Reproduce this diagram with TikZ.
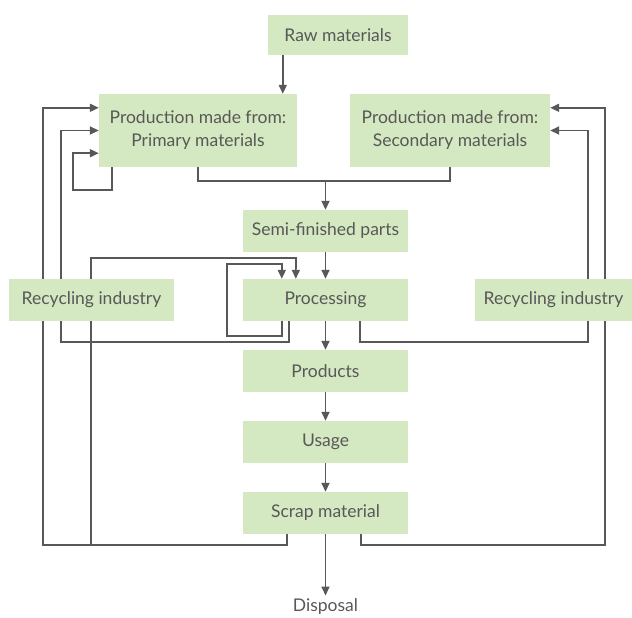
\documentclass[tikz,border=0pt]{standalone}
\usepackage{fontspec}
\setmainfont{Lato}
\usetikzlibrary{arrows.meta}
\definecolor{boxgreen}{RGB}{212,232,193}
\definecolor{linegray}{RGB}{88,88,88}
\tikzset{
  stage/.style={fill=boxgreen, text=linegray, minimum width=165pt, minimum height=42pt,
    inner sep=0pt, align=center, font=\fontsize{17.5}{23}\selectfont},
  flow/.style={draw=linegray, line width=1.7pt, -{Triangle[length=9pt,width=8pt]}},
  link/.style={draw=linegray, line width=1.7pt}
}
\begin{document}
\begin{tikzpicture}[x=1pt,y=-1pt]
  \useasboundingbox (0,0) rectangle (632,618);
  % main chain
  \node[stage, minimum width=140pt, minimum height=40pt] (raw) at (338,35) {Raw materials};
  \node[stage, minimum width=198pt, minimum height=73pt] (prim) at (198,130.5) {Production made from:\\Primary materials};
  \node[stage, minimum width=200pt, minimum height=73pt] (sec) at (450,130.5) {Production made from:\\Secondary materials};
  \node[stage] (semi) at (325.5,231) {Semi-finished parts};
  \node[stage] (proc) at (325.5,300) {Processing};
  \node[stage] (prod) at (325.5,371) {Products};
  \node[stage] (use) at (325.5,442) {Usage};
  \node[stage] (scrap) at (325.5,513) {Scrap material};
  \node[text=linegray, font=\fontsize{17.5}{23}\selectfont] (disp) at (325.5,607) {Disposal};
  \coordinate (merge) at (325.5,181);
  \coordinate (jointL) at (91,545);

  \draw[flow] ([xshift=15pt]raw.south west) -- ([xshift=15pt]raw.south west |- prim.north);
  \draw[link] (prim.south) |- (merge) -| (sec.south);
  \draw[flow] (merge) -- (semi.north);
  \draw[flow] (semi) -- (proc);
  \draw[flow] (proc) -- (prod);
  \draw[flow] (prod) -- (use);
  \draw[flow] (use) -- (scrap);
  \draw[flow] (scrap) -- (disp);

  % loops on the left
  \draw[flow] ([xshift=13pt]prim.south west) -- ++(0,23) -- ++(-39,0) |- ([yshift=14pt]prim.south west);
  \draw[flow] ([xshift=46pt]proc.south west) |- (61,342) |- (prim.west);
  \draw[flow] ([xshift=44pt]scrap.south west) |- (43,545) |- ([yshift=-14pt]prim.north west);
  \draw[flow] (jointL) |- (296,258) -- ([xshift=53pt]proc.north west);
  \draw[flow] ([xshift=39pt]proc.south west) -- ++(0,15) -| (227,264) -| ([xshift=39pt]proc.north west);

  % loops on the right
  \draw[flow] ([xshift=-48pt]proc.south east) |- (588,342) |- (sec.east);
  \draw[flow] ([xshift=-47pt]scrap.south east) |- (605,545) |- ([yshift=-14pt]sec.north east);

  % recycling boxes over the lines
  \node[stage] (recl) at (91.5,300) {Recycling industry};
  \node[stage, minimum width=157pt] (recr) at (553.5,300) {Recycling industry};
\end{tikzpicture}
\end{document}
